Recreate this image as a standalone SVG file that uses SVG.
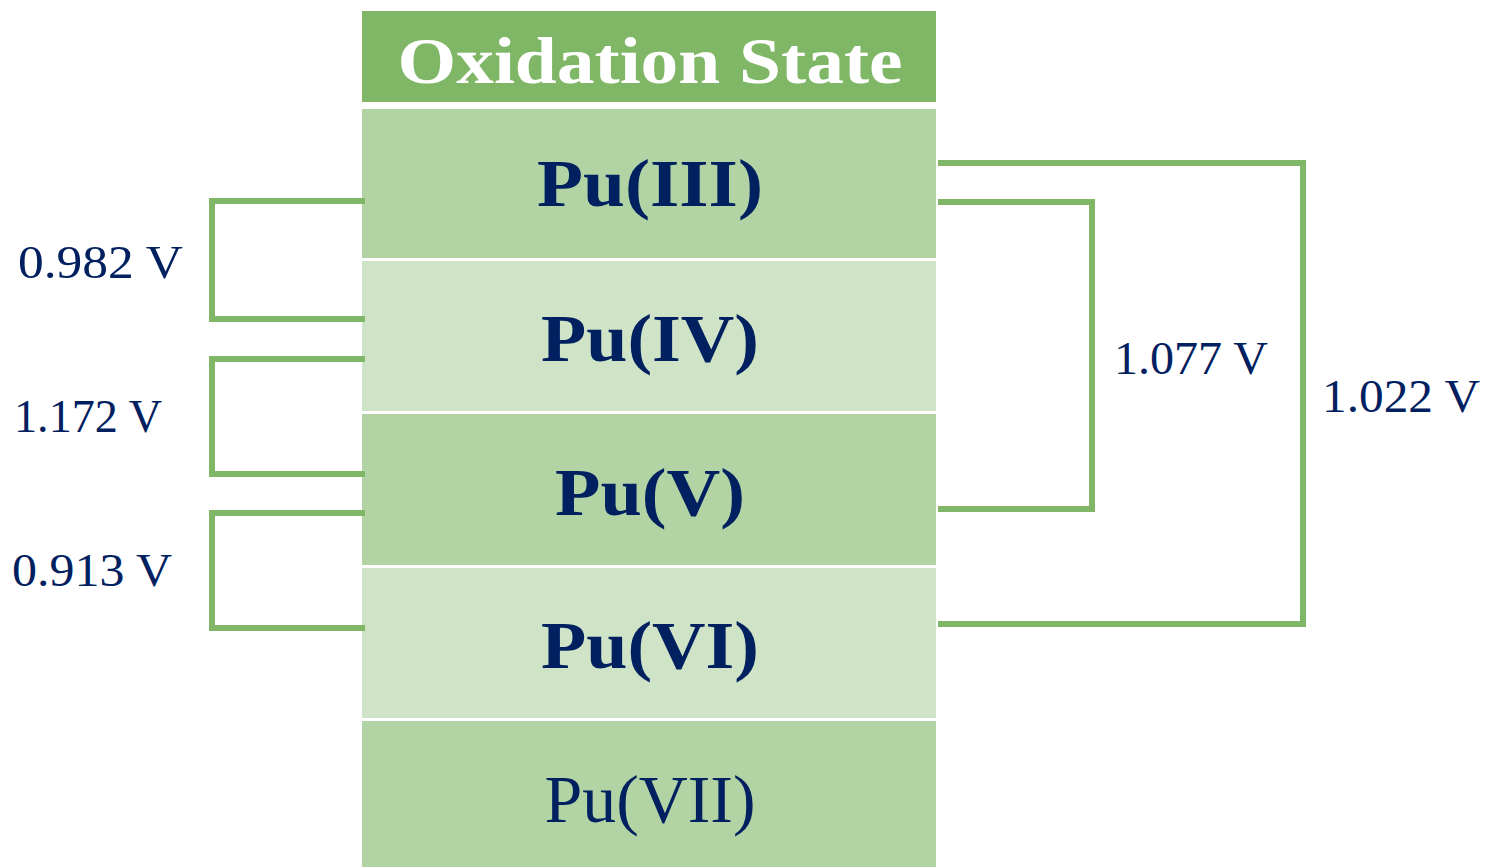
<svg xmlns="http://www.w3.org/2000/svg" width="1485" height="867" viewBox="0 0 1485 867">
<style>
.hdr{fill:#7FB766}
.dk{fill:#B2D4A5}
.lt{fill:#CFE3C6}
.node{font-family:"Liberation Serif","DejaVu Serif",serif;font-size:68px;fill:#002060;text-anchor:middle}
.b{font-weight:bold}
.title{font-family:"Liberation Serif","DejaVu Serif",serif;font-size:66px;font-weight:bold;fill:#FFFFFF;text-anchor:middle}
.lbl{font-family:"Liberation Serif","DejaVu Serif",serif;font-size:46px;fill:#002060}
.conn{fill:none;stroke:#7FB766;stroke-width:6;stroke-linejoin:miter}
</style>
<rect width="1485" height="867" fill="#FFFFFF"/>
<g id="header">
<rect class="hdr" x="362" y="11" width="574" height="91"/>
<text class="title" x="650" y="83" textLength="505" lengthAdjust="spacingAndGlyphs">Oxidation State</text>
</g>
<g id="pu3">
<rect class="dk" x="362" y="109" width="574" height="149"/>
<text class="node b" x="650" y="206" textLength="226" lengthAdjust="spacingAndGlyphs">Pu(III)</text>
</g>
<g id="pu4">
<rect class="lt" x="362" y="261" width="574" height="150"/>
<text class="node b" x="650" y="361" textLength="218" lengthAdjust="spacingAndGlyphs">Pu(IV)</text>
</g>
<g id="pu5">
<rect class="dk" x="362" y="414" width="574" height="151"/>
<text class="node b" x="650" y="515" textLength="190" lengthAdjust="spacingAndGlyphs">Pu(V)</text>
</g>
<g id="pu6">
<rect class="lt" x="362" y="568" width="574" height="150"/>
<text class="node b" x="650" y="668" textLength="218" lengthAdjust="spacingAndGlyphs">Pu(VI)</text>
</g>
<g id="pu7">
<rect class="dk" x="362" y="721" width="574" height="146"/>
<text class="node" x="650" y="822" textLength="211" lengthAdjust="spacingAndGlyphs">Pu(VII)</text>
</g>
<g id="connectors">
<polyline class="conn" points="365,201 212,201 212,319 365,319"/>
<polyline class="conn" points="365,359 212,359 212,474 365,474"/>
<polyline class="conn" points="365,513 212,513 212,628 365,628"/>
<polyline class="conn" points="938,202 1092,202 1092,509 938,509"/>
<polyline class="conn" points="938,163 1303,163 1303,624 938,624"/>
</g>
<g id="labels">
<text class="lbl" x="18" y="278" textLength="165" lengthAdjust="spacingAndGlyphs">0.982 V</text>
<text class="lbl" x="14" y="432" textLength="148" lengthAdjust="spacingAndGlyphs">1.172 V</text>
<text class="lbl" x="12" y="586" textLength="160" lengthAdjust="spacingAndGlyphs">0.913 V</text>
<text class="lbl" x="1114" y="374" textLength="154" lengthAdjust="spacingAndGlyphs">1.077 V</text>
<text class="lbl" x="1322" y="412" textLength="158" lengthAdjust="spacingAndGlyphs">1.022 V</text>
</g>
</svg>
